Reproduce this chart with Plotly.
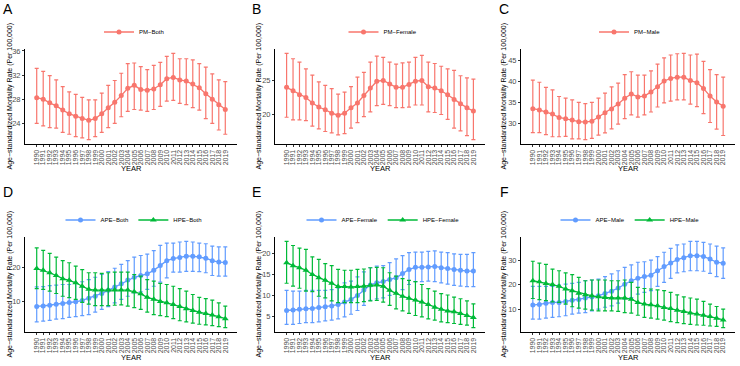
import plotly.graph_objects as go

years = list(range(1990, 2020))
year_labels = [str(y) for y in years]

# Panel A: PM-Both
pm_both = [28.25, 28.0, 27.4, 26.9, 26.2, 25.6, 25.2, 24.8, 24.5, 24.8, 25.6, 26.6, 27.5, 28.6, 29.8,
           30.3, 29.6, 29.5, 29.7, 30.4, 31.4, 31.6, 31.2, 31.0, 30.5, 29.9, 28.9, 28.0, 27.1, 26.3]
pm_both_lo = [24.0, 23.6, 23.3, 23.2, 22.5, 22.2, 21.8, 21.6, 21.3, 21.8, 22.5, 23.3, 24.0, 25.1, 26.0,
              26.3, 26.2, 26.0, 26.3, 26.8, 27.7, 27.8, 27.3, 27.1, 26.6, 26.2, 24.8, 24.0, 22.9, 22.2]
pm_both_hi = [33.1, 32.6, 31.9, 31.2, 30.1, 29.2, 28.8, 28.3, 27.9, 27.9, 29.0, 30.3, 31.1, 32.3, 33.9,
              34.0, 33.4, 32.9, 33.6, 34.1, 35.1, 35.6, 34.7, 34.7, 34.5, 33.9, 33.3, 32.2, 31.2, 30.9]

# Panel B: PM-Female
pm_fem = [24.0, 23.5, 22.9, 22.5, 21.7, 21.1, 20.7, 20.2, 19.9, 20.2, 21.0, 21.7, 22.8, 23.9, 24.9,
          25.0, 24.5, 24.0, 24.0, 24.4, 24.9, 25.0, 24.1, 23.9, 23.5, 22.9, 22.2, 21.6, 21.0, 20.5]
pm_fem_lo = [19.6, 19.2, 19.2, 19.1, 18.3, 17.9, 17.5, 17.3, 17.0, 17.2, 18.0, 18.8, 19.7, 20.4, 21.3,
             21.5, 21.3, 21.0, 21.0, 21.1, 21.4, 21.4, 20.4, 20.3, 20.0, 19.3, 18.0, 17.6, 16.9, 16.3]
pm_fem_hi = [29.0, 28.2, 27.7, 26.7, 25.8, 24.8, 24.3, 23.8, 23.0, 23.3, 24.1, 25.5, 26.2, 27.7, 28.6,
             28.4, 27.7, 27.4, 27.6, 27.7, 28.4, 28.7, 27.7, 27.5, 27.1, 26.7, 26.5, 25.7, 25.4, 25.2]

# Panel C: PM-Male
pm_male = [33.5, 33.2, 32.7, 32.2, 31.4, 31.1, 30.8, 30.4, 30.3, 30.5, 31.5, 32.5, 33.4, 34.6, 36.0,
           37.0, 36.3, 36.5, 37.5, 38.7, 40.1, 40.7, 41.0, 41.0, 40.2, 39.7, 38.3, 36.5, 35.1, 34.1]
pm_male_lo = [27.8, 27.8, 27.3, 26.8, 26.8, 26.9, 26.3, 26.3, 26.1, 26.4, 27.2, 27.7, 28.7, 29.8, 31.1,
              32.0, 31.5, 32.0, 32.7, 33.9, 34.9, 35.3, 35.6, 35.6, 34.6, 34.0, 32.3, 30.2, 28.6, 27.1]
pm_male_hi = [40.3, 39.8, 38.6, 38.0, 36.4, 36.0, 35.6, 35.0, 34.7, 35.0, 36.0, 37.2, 38.7, 39.6, 41.6,
              42.3, 41.5, 41.5, 42.5, 44.1, 45.6, 46.3, 46.6, 46.7, 46.3, 46.5, 44.8, 42.8, 41.6, 41.0]

# Panel D: APE-Both / HPE-Both
ape_both = [8.65, 8.75, 9.0, 9.3, 9.5, 9.8, 10.0, 10.4, 11.0, 11.6, 12.4, 13.3, 14.3, 15.2, 16.3,
            17.1, 17.6, 18.1, 19.1, 20.5, 21.9, 22.5, 22.8, 23.2, 23.2, 23.0, 22.6, 21.9, 21.5, 21.4]
ape_both_lo = [4.2, 4.4, 4.6, 5.0, 5.1, 5.5, 5.7, 6.0, 6.3, 7.0, 7.8, 8.6, 9.7, 10.7, 11.6,
               12.6, 12.9, 13.6, 14.5, 15.7, 16.9, 18.6, 18.6, 18.8, 18.8, 18.7, 18.4, 17.6, 17.4, 17.4]
ape_both_hi = [14.3, 14.4, 14.7, 14.8, 15.0, 15.0, 15.5, 15.8, 16.4, 17.1, 17.9, 18.7, 19.7, 20.8, 21.9,
               22.9, 23.4, 23.8, 24.8, 26.3, 27.0, 27.0, 27.3, 27.5, 27.3, 27.0, 26.8, 26.1, 25.9, 25.9]
hpe_both = [19.6, 19.1, 18.4, 17.6, 16.7, 16.2, 15.5, 14.5, 13.6, 13.4, 13.4, 13.4, 13.4, 13.4, 13.4,
            12.9, 12.3, 11.3, 10.7, 10.1, 9.7, 9.2, 8.6, 8.0, 7.5, 7.0, 6.6, 6.2, 5.7, 5.1]
hpe_both_lo = [13.8, 13.6, 13.1, 12.4, 11.6, 11.2, 10.7, 9.8, 9.3, 8.9, 8.9, 8.9, 9.0, 9.1, 8.75,
               8.3, 7.8, 7.0, 6.3, 6.0, 5.7, 5.1, 4.5, 4.2, 3.8, 3.5, 3.3, 3.1, 2.8, 2.5]
hpe_both_hi = [25.6, 24.9, 24.0, 22.9, 21.9, 21.3, 20.3, 19.3, 18.4, 18.4, 18.2, 18.4, 18.6, 18.6, 18.6,
               17.9, 17.4, 16.4, 16.0, 15.3, 15.0, 14.5, 13.8, 13.1, 12.1, 11.3, 10.9, 10.5, 9.7, 8.75]

# Panel E: APE-Female / HPE-Female
ape_fem = [6.4, 6.5, 6.7, 6.8, 6.9, 7.1, 7.3, 7.5, 7.8, 8.4, 9.0, 10.0, 11.3, 12.5, 13.0,
           13.3, 13.8, 14.2, 15.2, 16.2, 16.7, 16.7, 16.8, 16.9, 16.6, 16.4, 16.2, 16.0, 15.8, 15.8]
ape_fem_lo = [3.1, 3.1, 3.3, 3.5, 3.5, 3.7, 3.9, 4.1, 4.4, 4.9, 5.5, 6.4, 7.6, 8.8, 9.2,
              9.4, 10.0, 10.5, 11.4, 12.6, 13.3, 13.3, 13.4, 13.3, 13.0, 12.7, 12.4, 12.2, 12.1, 12.1]
ape_fem_hi = [11.2, 11.0, 11.0, 11.2, 11.2, 11.2, 11.2, 11.4, 11.8, 13.0, 13.4, 14.4, 15.6, 16.6, 17.0,
              17.1, 17.8, 18.7, 19.5, 20.2, 20.3, 20.3, 20.5, 20.6, 20.3, 20.2, 19.9, 19.8, 19.8, 20.2]
hpe_fem = [17.8, 17.1, 16.6, 16.0, 15.0, 14.2, 13.6, 12.9, 12.1, 12.1, 12.0, 12.1, 12.2, 12.4, 12.5,
           12.2, 11.2, 10.5, 9.8, 9.3, 8.9, 8.4, 7.8, 7.2, 6.7, 6.3, 6.1, 5.7, 5.2, 4.7]
hpe_fem_lo = [12.9, 12.2, 11.7, 11.0, 10.9, 9.8, 9.4, 8.7, 8.3, 8.3, 8.3, 8.3, 8.5, 8.7, 8.8,
              8.4, 7.6, 6.8, 6.3, 5.7, 5.2, 4.9, 4.4, 4.1, 3.7, 3.5, 3.3, 3.1, 2.9, 2.3]
hpe_fem_hi = [22.9, 21.9, 21.3, 21.0, 19.2, 18.6, 17.6, 17.1, 16.2, 16.0, 16.0, 16.2, 16.3, 16.6, 16.7,
              16.6, 15.4, 14.6, 14.0, 13.6, 13.3, 12.6, 11.6, 11.0, 10.4, 10.1, 9.6, 9.2, 8.7, 8.0]

# Panel F: APE-Male / HPE-Male
ape_male = [11.7, 11.9, 12.4, 12.8, 12.8, 13.2, 13.7, 14.0, 14.6, 15.0, 15.5, 16.5, 17.4, 18.7, 20.3,
            21.7, 22.7, 23.4, 24.0, 25.8, 27.5, 29.0, 30.4, 31.1, 32.0, 32.0, 31.7, 30.6, 29.3, 28.9]
ape_male_lo = [5.9, 5.9, 6.3, 6.6, 6.9, 7.3, 8.0, 8.4, 8.6, 9.3, 10.0, 10.8, 11.4, 12.5, 14.1,
               14.8, 16.2, 16.9, 17.6, 19.4, 21.0, 22.7, 24.9, 25.4, 25.8, 25.8, 25.6, 24.7, 23.4, 22.7]
ape_male_hi = [19.4, 19.4, 19.4, 19.4, 19.9, 20.3, 20.6, 21.0, 21.7, 22.0, 22.4, 23.4, 24.5, 25.8, 27.2,
               28.2, 29.3, 29.5, 30.2, 31.6, 33.4, 35.0, 36.4, 36.8, 37.9, 37.9, 37.5, 36.8, 35.9, 35.2]
hpe_male = [21.7, 21.3, 20.6, 20.1, 19.4, 18.3, 17.6, 16.6, 15.9, 15.5, 15.1, 14.8, 14.6, 14.6, 14.6,
            14.1, 12.8, 12.1, 11.8, 11.4, 10.7, 10.3, 9.6, 9.1, 8.4, 8.0, 7.5, 7.0, 6.3, 5.6]
hpe_male_lo = [14.4, 13.9, 13.5, 13.0, 12.8, 12.1, 11.0, 10.4, 10.0, 9.6, 9.3, 9.3, 9.3, 9.1, 8.6,
               8.4, 7.5, 6.6, 6.3, 5.9, 5.5, 4.9, 4.5, 4.1, 3.8, 3.5, 3.4, 3.1, 2.9, 2.4]
hpe_male_hi = [29.7, 28.9, 28.4, 26.5, 25.8, 24.9, 24.2, 23.1, 21.7, 22.0, 22.0, 22.0, 21.7, 21.7, 22.0,
               21.0, 19.0, 18.5, 18.3, 17.9, 17.6, 16.9, 15.9, 15.1, 14.6, 14.1, 13.2, 12.1, 11.1, 10.0]

RED = "#F8766D"
BLUE = "#619CFF"
GREEN = "#00BA38"
FONT = "Liberation Sans, Arial, sans-serif"
W, H = 740, 366

panels = [
    dict(label="A", dtick=4, col=0, row=0,
         series=[("PM−Both", pm_both, pm_both_lo, pm_both_hi, RED, "circle")]),
    dict(label="B", dtick=5, col=1, row=0,
         series=[("PM−Female", pm_fem, pm_fem_lo, pm_fem_hi, RED, "circle")]),
    dict(label="C", dtick=5, col=2, row=0,
         series=[("PM−Male", pm_male, pm_male_lo, pm_male_hi, RED, "circle")]),
    dict(label="D", dtick=10, col=0, row=1,
         series=[("APE−Both", ape_both, ape_both_lo, ape_both_hi, BLUE, "circle"),
                 ("HPE−Both", hpe_both, hpe_both_lo, hpe_both_hi, GREEN, "triangle-up")]),
    dict(label="E", dtick=5, col=1, row=1,
         series=[("APE−Female", ape_fem, ape_fem_lo, ape_fem_hi, BLUE, "circle"),
                 ("HPE−Female", hpe_fem, hpe_fem_lo, hpe_fem_hi, GREEN, "triangle-up")]),
    dict(label="F", dtick=10, col=2, row=1,
         series=[("APE−Male", ape_male, ape_male_lo, ape_male_hi, BLUE, "circle"),
                 ("HPE−Male", hpe_male, hpe_male_lo, hpe_male_hi, GREEN, "triangle-up")]),
]

# layout geometry (pixels)
xdom = [(25, 237), (275, 485), (521, 735)]
ydom = [(49, 144), (237, 332)]
ytitle_x = [9, 258, 503]
label_x = [8, 256, 504]
label_y = [9, 192]
legend_cx = [134, 383, 630]
legend_cy = [32, 220]
year_title_y = [169, 357]

fig = go.Figure()
layout = dict(width=W, height=H, margin=dict(l=0, r=0, t=0, b=0, autoexpand=False),
              paper_bgcolor="white", plot_bgcolor="white", showlegend=True,
              font=dict(family=FONT, color="black"))
annotations = []

for i, p in enumerate(panels, start=1):
    sfx = "" if i == 1 else str(i)
    c, r = p["col"], p["row"]
    for name, v, lo, hi, col, sym in p["series"]:
        fig.add_trace(go.Scatter(
            x=years, y=v, mode="lines+markers", name=name, showlegend=True,
            line=dict(color=col, width=1.3),
            marker=dict(color=col, size=5 if sym == "circle" else 6, symbol=sym),
            error_y=dict(type="data", symmetric=False,
                         array=[h - m for h, m in zip(hi, v)],
                         arrayminus=[m - l for m, l in zip(v, lo)],
                         color=col, thickness=1.2, width=2),
            xaxis="x" + sfx, yaxis="y" + sfx, legend="legend" + sfx))
    lows = [x for s in p["series"] for x in s[2]]
    highs = [x for s in p["series"] for x in s[3]]
    ymin, ymax = min(lows), max(highs)
    pad = 0.05 * (ymax - ymin)
    x0, x1 = xdom[c]
    y0, y1 = ydom[r]
    layout["xaxis" + sfx] = dict(
        domain=[x0 / W, x1 / W], anchor="y" + sfx, automargin=False,
        range=[years[0] - 1.8, years[-1] + 1.8],
        tickmode="array", tickvals=years, ticktext=year_labels,
        tickangle=-90, tickfont=dict(size=7, color="#4D4D4D"),
        showline=True, linecolor="black", linewidth=1,
        ticks="outside", ticklen=2, tickcolor="#333333",
        showgrid=False, zeroline=False)
    layout["yaxis" + sfx] = dict(
        domain=[1 - y1 / H, 1 - y0 / H], anchor="x" + sfx, automargin=False,
        range=[ymin - pad, ymax + pad], dtick=p["dtick"],
        tickfont=dict(size=7.5, color="#4D4D4D"),
        showline=True, linecolor="black", linewidth=1,
        ticks="outside", ticklen=2, tickcolor="#333333",
        showgrid=False, zeroline=False)
    layout["legend" + sfx] = dict(
        x=legend_cx[c] / W, y=1 - legend_cy[r] / H, xanchor="center", yanchor="middle",
        orientation="h", font=dict(size=6, family=FONT), bgcolor="rgba(0,0,0,0)",
        itemwidth=30, tracegroupgap=0, visible=True)
    annotations.append(dict(text=p["label"], x=label_x[c] / W, y=1 - label_y[r] / H,
                            xref="paper", yref="paper", showarrow=False,
                            xanchor="center", yanchor="middle", font=dict(size=14)))
    annotations.append(dict(text="YEAR", x=(x0 + x1) / 2 / W, y=1 - year_title_y[r] / H,
                            xref="paper", yref="paper", showarrow=False,
                            xanchor="center", yanchor="middle", font=dict(size=7.5)))
    annotations.append(dict(text="Age−standardized Mortality Rate (Per 100,000)",
                            x=ytitle_x[c] / W, y=1 - (y0 + y1) / 2 / H,
                            xref="paper", yref="paper", showarrow=False, textangle=-90,
                            xanchor="center", yanchor="middle", font=dict(size=7)))

layout["annotations"] = annotations
fig.update_layout(**layout)
fig.write_html("out.html", config={"displayModeBar": False},
               post_script="document.body.style.margin='0';document.body.style.overflow='hidden';")
